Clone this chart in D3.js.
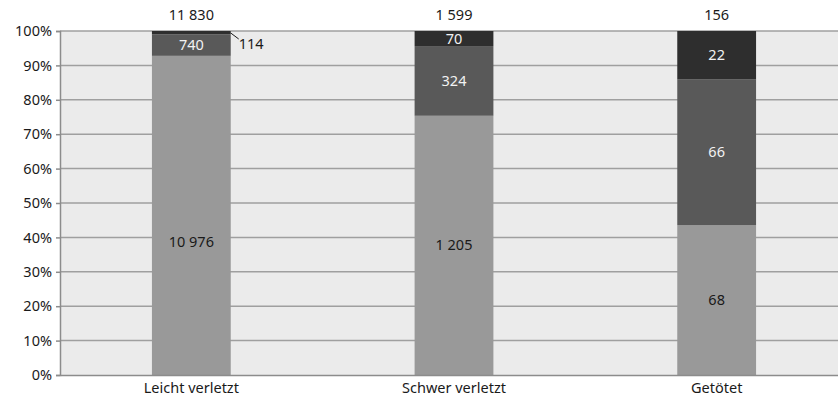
<!DOCTYPE html>
<html>
<head>
<meta charset="utf-8">
<script src="https://cdn.jsdelivr.net/npm/d3@7"></script>
<style>
  body { margin: 0; background: #fff; }
  text { font-family: "Noto Sans", "Open Sans", sans-serif; font-size: 14.5px; }
</style>
</head>
<body>
<script>
var categories = ["Leicht verletzt", "Schwer verletzt", "Getötet"];
var seriesLight = [10976, 1205, 68];
var seriesMid = [740, 324, 66];
var seriesDark = [114, 70, 22];
var yTicks = [0, 0.1, 0.2, 0.3, 0.4, 0.5, 0.6, 0.7, 0.8, 0.9, 1];

var w = 838, h = 403;
var plotLeft = 60, plotRight = 848, plotTop = 31, plotBottom = 375;
var fontSize = "14.5px";

var svg = d3.select("body").append("svg")
    .attr("width", w)
    .attr("height", h);

var locale = d3.formatLocale({decimal: ",", thousands: "\u00a0", grouping: [3], currency: ["", ""]});
var fmt = locale.format(",");

var x = d3.scaleBand().domain(categories).range([plotLeft, plotRight]).paddingInner(0.7).paddingOuter(0.35);
var y = d3.scaleLinear().domain([0, 1]).range([plotBottom, plotTop]);

// table built from the series arrays
var rows = categories.map(function(c, i){
    return {cat: c, light: seriesLight[i], mid: seriesMid[i], dark: seriesDark[i],
            total: seriesLight[i] + seriesMid[i] + seriesDark[i]};
});
var keys = ["light", "mid", "dark"];
var colors = {light: "#999999", mid: "#595959", dark: "#2e2e2e"};
var textColors = {light: "#1a1a1a", mid: "#f2f2f2", dark: "#f2f2f2"};

var stack = d3.stack().keys(keys).offset(d3.stackOffsetExpand);
var layers = stack(rows);

// plot background
svg.append("rect")
    .attr("x", plotLeft).attr("y", plotTop)
    .attr("width", plotRight - plotLeft).attr("height", plotBottom - plotTop)
    .style("fill", "#ebebeb");

// gridlines
svg.selectAll(".grid")
    .data(yTicks.slice(1))
    .enter().append("line")
    .attr("x1", plotLeft).attr("x2", plotRight)
    .attr("y1", function(d){ return y(d); })
    .attr("y2", function(d){ return y(d); })
    .style("stroke", "#9f9f9f")
    .style("stroke-width", 1.5);

// bars
var groups = svg.selectAll(".layer")
    .data(layers)
    .enter().append("g")
    .style("fill", function(d){ return colors[d.key]; });

groups.selectAll("rect")
    .data(function(d){ return d; })
    .enter().append("rect")
    .attr("x", function(d){ return x(d.data.cat); })
    .attr("width", x.bandwidth())
    .attr("y", function(d){ return y(d[1]); })
    .attr("height", function(d){ return y(d[0]) - y(d[1]); });

// axes
var yAxis = d3.axisLeft(y).tickValues(yTicks).tickFormat(d3.format(".0%")).tickSize(4);
var ya = svg.append("g")
    .attr("transform", "translate(" + plotLeft + ",0)")
    .call(yAxis);
ya.select(".domain").style("stroke", "#8c8c8c").style("stroke-width", 1.5);
ya.selectAll(".tick line").style("stroke", "#8c8c8c").style("stroke-width", 1.5);
ya.selectAll(".tick text").attr("x", -8).style("fill", "#1a1a1a").style("font-size", fontSize);

var xAxis = d3.axisBottom(x).tickSize(0).tickPadding(8);
var xa = svg.append("g")
    .attr("transform", "translate(0," + plotBottom + ")")
    .call(xAxis);
xa.select(".domain").style("stroke", "#8c8c8c").style("stroke-width", 1.5);
xa.selectAll(".tick text").style("fill", "#1a1a1a").style("font-size", fontSize);

// segment labels
var labelNudge = {"light-0": 27};
layers.forEach(function(layer){
    layer.forEach(function(d, i){
        var v = d.data[layer.key];
        var cx = x(d.data.cat) + x.bandwidth() / 2;
        var cy = (y(d[0]) + y(d[1])) / 2 + (labelNudge[layer.key + "-" + i] || 0);
        var segH = y(d[0]) - y(d[1]);
        if (segH < 8) {
            // small segment: label outside with leader line
            var bx = x(d.data.cat) + x.bandwidth();
            svg.append("line")
                .attr("x1", bx).attr("y1", y(d[1]) + 2)
                .attr("x2", bx + 8).attr("y2", y(d[1]) + 8)
                .style("stroke", "#1a1a1a").style("stroke-width", 1);
            svg.append("text")
                .attr("x", bx + 8).attr("y", y(d[1]) + 13)
                .attr("dy", "0.35em")
                .style("fill", "#1a1a1a")
                .text(fmt(v));
        } else {
            svg.append("text")
                .attr("x", cx).attr("y", cy)
                .attr("dy", "0.35em")
                .attr("text-anchor", "middle")
                .style("fill", textColors[layer.key])
                .text(fmt(v));
        }
    });
});

// totals
svg.selectAll(".total")
    .data(rows)
    .enter().append("text")
    .attr("x", function(d){ return x(d.cat) + x.bandwidth() / 2; })
    .attr("y", 15)
    .attr("dy", "0.35em")
    .attr("text-anchor", "middle")
    .style("fill", "#1a1a1a")
    .text(function(d){ return fmt(d.total); });
</script>
</body>
</html>
